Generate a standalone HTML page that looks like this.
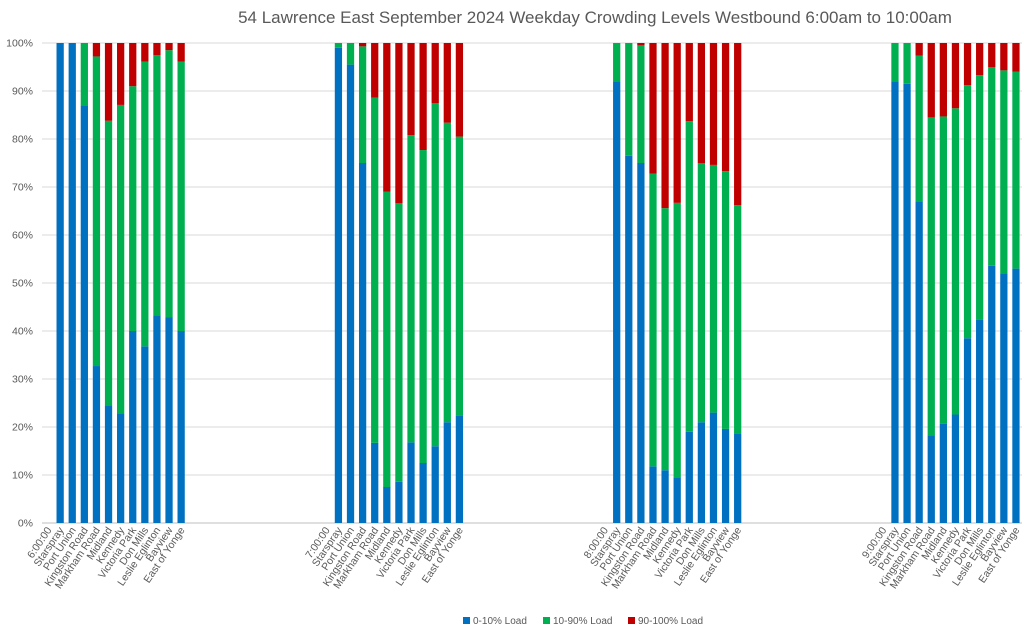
<!DOCTYPE html>
<html><head><meta charset="utf-8"><style>
body{margin:0;background:#fff;font-family:"Liberation Sans",sans-serif;}
svg text{font-family:"Liberation Sans",sans-serif;fill:#595959;}
</style></head><body>
<svg id="chart" width="1024" height="635" xmlns="http://www.w3.org/2000/svg">
<text x="595" y="23" font-size="17" text-anchor="middle">54 Lawrence East September 2024  Weekday Crowding Levels Westbound 6:00am to 10:00am</text>
<g id="grid"></g>
<g id="yticks"></g>
<g id="bars"></g>
<g id="xlabels"></g>
<g>
<g><rect x="463" y="617" width="7" height="7" fill="#0070C0"/><text x="473" y="624" font-size="10">0-10% Load</text></g>
<g><rect x="543" y="617" width="7" height="7" fill="#00B050"/><text x="553" y="624" font-size="10">10-90% Load</text></g>
<g><rect x="628" y="617" width="7" height="7" fill="#C00000"/><text x="638" y="624" font-size="10">90-100% Load</text></g>
</g>
</svg>
<script>
const hours = ["6:00:00","7:00:00","8:00:00","9:00:00"];
const stops = ["Starspray","Port Union","Kingston Road","Markham Road","Midland","Kennedy","Victoria Park","Don Mills","Leslie Eglinton","Bayview","East of Yonge"];
const low = [
 [100,100,87,32.7,24.5,22.8,40,36.8,43.3,42.9,40],
 [99,95.5,75,16.7,7.5,8.6,16.8,12.5,16,21,22.3],
 [92,76.5,75,11.8,11,9.5,19,21,23,19.6,18.7],
 [92,91.5,67,18.3,20.7,22.6,38.5,42.3,53.6,52,53]
];
const mid = [
 [0,0,13,64.5,59.3,64.3,51,59.3,54.2,55.6,56.1],
 [1,4.5,24.3,71.9,61.5,58,64,65.2,71.5,62.4,58.2],
 [8,23.5,24.5,61,54.6,57.2,64.7,54,51.6,53.7,47.5],
 [8,8.5,30.4,66.2,64,63.8,52.7,51,41.4,42.3,41]
];
const high = [
 [0,0,0,2.8,16.2,12.9,9,3.9,2.5,1.5,3.9],
 [0,0,0.7,11.4,31,33.4,19.2,22.3,12.5,16.6,19.5],
 [0,0,0.5,27.2,34.4,33.3,16.3,25,25.4,26.7,33.8],
 [0,0,2.6,15.5,15.3,13.6,8.8,6.7,5,5.7,6]
];
const yTicks = [0,10,20,30,40,50,60,70,80,90,100];
const NS="http://www.w3.org/2000/svg";
const X0=42,X1=1022,Y0=523,Y1=43;
const groupSize=23, nCats=groupSize*3+12;
const cw=(X1-X0)/nCats;
const y=p=>Y0-(Y0-Y1)*p/100;
const cx=i=>X0+cw*(i+0.5);
function mk(tag,attrs,parent){const e=document.createElementNS(NS,tag);for(const k in attrs)e.setAttribute(k,attrs[k]);parent.appendChild(e);return e;}
const grid=document.getElementById('grid'),yt=document.getElementById('yticks'),bars=document.getElementById('bars'),xl=document.getElementById('xlabels');
yTicks.forEach(t=>{
 const l=mk('line',{x1:X0,x2:X1,y1:y(t),y2:y(t),stroke:t===0?'#bfbfbf':'#d9d9d9','stroke-width':1},grid);
 
 
 const tx=mk('text',{x:33,y:y(t)+3.5,'font-size':10.5,'text-anchor':'end'},yt);
 tx.textContent=t+'%';
 
 
});
function label(i,txt){
 const x=cx(i)+4,yy=530;
 const t=mk('text',{x:x,y:yy,'font-size':10.5,'text-anchor':'end',transform:`rotate(-56 ${x} ${yy})`},xl);
 t.textContent=txt;
 
 
}
const bw=cw*0.6;
hours.forEach((h,g)=>{
 const base=g*groupSize;
 label(base,h);
 stops.forEach((s,k)=>{
  const i=base+1+k;
  label(i,s);
  let acc=0;
  [[low,'#0070C0','low'],[mid,'#00B050','mid'],[high,'#C00000','high']].forEach(([arr,col,nm])=>{
   const v=arr[g][k];
   if(v>0){
    const r=mk('rect',{x:cx(i)-bw/2,y:y(acc+v),width:bw,height:y(acc)-y(acc+v),fill:col},bars);
    
    
   }
   acc+=v;
  });
 });
});
</script>
</body></html>
